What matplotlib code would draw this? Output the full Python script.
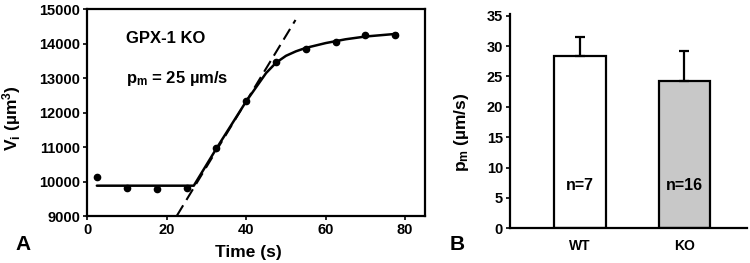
import matplotlib
matplotlib.use("Agg")
import matplotlib.pyplot as plt

plt.rcParams['font.family'] = ['Liberation Sans', 'DejaVu Sans']
plt.rcParams['font.weight'] = 'bold'
plt.rcParams['mathtext.fontset'] = 'custom'
plt.rcParams['mathtext.rm'] = 'Liberation Sans:bold'
plt.rcParams['mathtext.it'] = 'Liberation Sans:bold'
plt.rcParams['mathtext.bf'] = 'Liberation Sans:bold'

# panel A: cell volume over time
time_s = [2.5, 10, 17.5, 25, 32.5, 40, 47.5, 55, 62.5, 70, 77.5]
volume = [10140, 9800, 9790, 9820, 10980, 12350, 13480, 13850, 14050, 14250, 14240]

# fitted curve
fit_t = [2.4, 26.8, 32.5, 40, 45, 47.5, 50, 52.5, 55, 60, 65, 70, 78]
fit_v = [9880, 9880, 10960, 12330, 13150, 13450, 13650, 13780, 13880, 14020, 14130, 14210, 14290]

# tangent at the start of swelling
tan_t = [22.5, 52.4]
tan_v = [9000, 14690]

# panel B: permeability
groups = ['WT', 'KO']
pm_mean = [28.4, 24.3]
pm_err = [3.1, 4.9]
n_labels = ['n=7', 'n=16']

fig = plt.figure(figsize=(7.5, 2.63), dpi=100, facecolor='white')

ax1 = fig.add_axes([0.1164, 0.1787, 0.4503, 0.7859])
ax1.plot(fit_t, fit_v, color='black', linewidth=1.8, solid_capstyle='round')
ax1.plot(tan_t, tan_v, color='black', linewidth=1.5, dashes=(6, 3))
ax1.plot(time_s, volume, 'o', color='black', markersize=4.5)
ax1.set_xlim(0, 85)
ax1.set_ylim(9000, 15000)
ax1.set_xticks([0, 20, 40, 60, 80])
ax1.set_yticks(range(9000, 15001, 1000))
ax1.tick_params(direction='out', length=3, width=1.2, labelsize=10.5, pad=2)
for sp in ax1.spines.values():
    sp.set_linewidth(1.6)
ax1.set_xlabel('Time (s)', fontsize=12.5, fontweight='bold')
ax1.xaxis.set_label_coords(0.476, -0.14)
ax1.set_ylabel(r'$V_i$ (µm$^3$)', fontsize=12.5, fontweight='bold')
ax1.yaxis.set_label_coords(-0.19, 0.474)
ax1.text(0.115, 0.86, 'GPX-1 KO', transform=ax1.transAxes, fontsize=12, fontweight='bold', va='center')
ax1.text(0.115, 0.665, r'$p_m$ = 25 µm/s', transform=ax1.transAxes, fontsize=12, fontweight='bold', va='center')
fig.text(0.02, 0.07, 'A', fontsize=15, fontweight='bold', va='center')

ax2 = fig.add_axes([0.68, 0.1319, 0.316, 0.8167])
xpos = [0, 1]
ax2.bar(xpos, pm_mean, width=0.49, color=['white', '#c8c8c8'], edgecolor='black', linewidth=1.6)
ax2.errorbar(xpos, pm_mean, yerr=[[0, 0], pm_err], fmt='none', ecolor='black',
             elinewidth=1.6, capsize=3.5, capthick=1.6)
for x, lab in zip(xpos, n_labels):
    ax2.text(x, 7, lab, ha='center', va='center', fontsize=11.5, fontweight='bold')
ax2.set_xlim(-0.67, 1.6)
ax2.set_ylim(0, 35.36)
ax2.set_xticks(xpos)
ax2.set_xticklabels(groups)
ax2.set_yticks(range(0, 36, 5))
ax2.spines['top'].set_visible(False)
ax2.spines['right'].set_visible(False)
ax2.spines['left'].set_linewidth(1.6)
ax2.spines['bottom'].set_linewidth(1.6)
ax2.tick_params(axis='y', direction='out', length=3, width=1.2, labelsize=10.5, pad=2)
ax2.tick_params(axis='x', length=0, labelsize=10, pad=8)
ax2.set_ylabel(r'$p_m$ (µm/s)', fontsize=12.5, fontweight='bold')
ax2.yaxis.set_label_coords(-0.165, 0.448)
fig.text(0.6, 0.07, 'B', fontsize=15, fontweight='bold', va='center')

fig.savefig('out.png', dpi=100, facecolor='white')
